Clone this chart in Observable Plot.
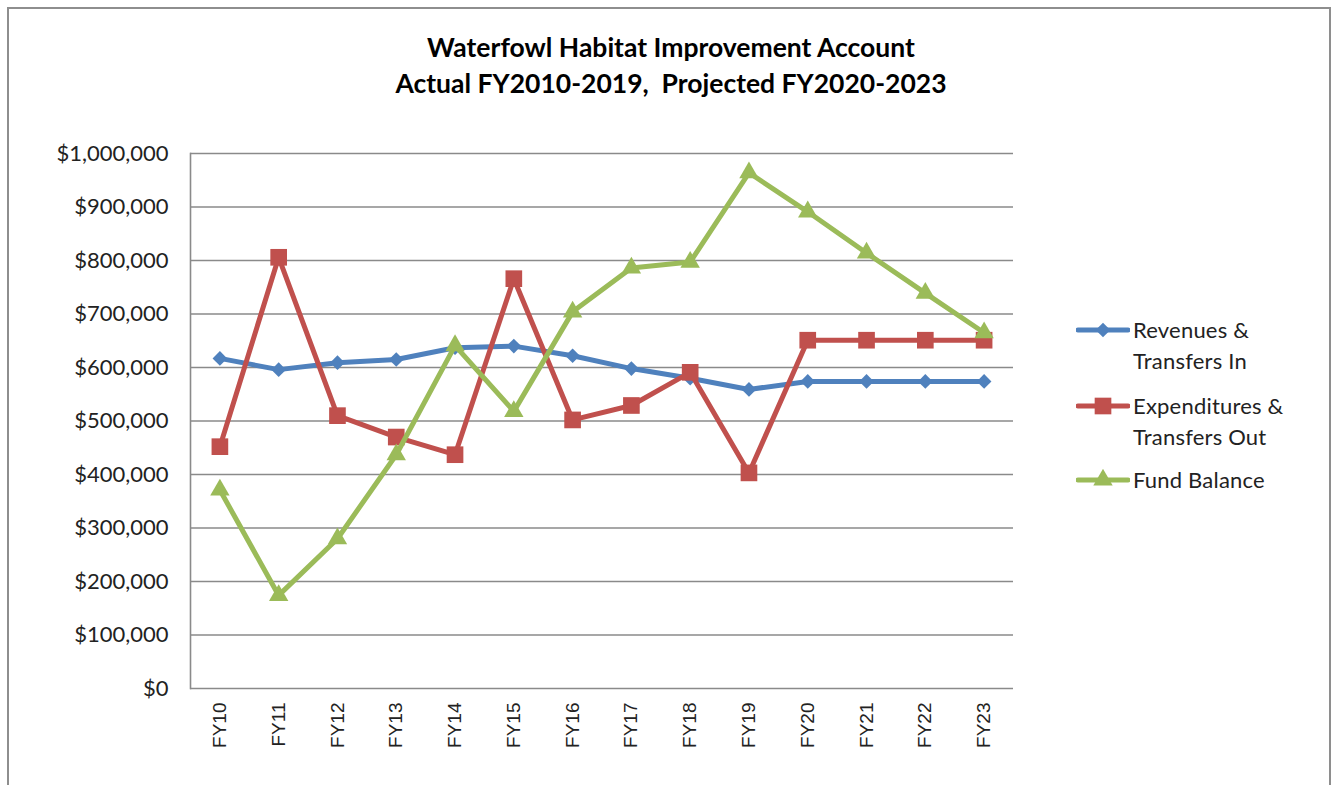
<!DOCTYPE html>
<html>
<head>
<meta charset="utf-8">
<script src="https://cdn.jsdelivr.net/npm/d3@7"></script>
<script src="https://cdn.jsdelivr.net/npm/@observablehq/plot@0.6"></script>
<style>
  html, body { margin: 0; padding: 0; background: #fff; overflow: hidden; }
  #wrap { position: relative; width: 1337px; height: 785px; overflow: hidden; background: #fff; }
  #frame { position: absolute; left: 7px; top: 7px; width: 1324px; height: 820px; border: 2px solid #8e8e8e; box-sizing: border-box; }
  #title { position: absolute; left: 0; top: 29px; width: 1342px; text-align: center; font-family: Lato, sans-serif; font-weight: bold; font-size: 26.5px; line-height: 36px; color: #000; }
  #chart { position: absolute; left: 0; top: 0; }
  #legend { position: absolute; left: 1076px; top: 314px; font-family: Lato, sans-serif; font-size: 22px; color: #222; }
  .item { display: flex; align-items: flex-start; }
  .item svg { flex: none; margin-top: 5px; }
  .item .lbl { line-height: 31px; margin-left: 3px; letter-spacing: 0.2px; }
</style>
</head>
<body>
<div id="wrap">
  <div id="frame"></div>
  <div id="chart"></div>
  <div id="title">Waterfowl Habitat Improvement Account<br>Actual FY2010-2019,&nbsp; Projected FY2020-2023</div>
  <div id="legend"></div>
</div>
<script>
const years = ["FY10","FY11","FY12","FY13","FY14","FY15","FY16","FY17","FY18","FY19","FY20","FY21","FY22","FY23"];
const revenues = [617000, 596000, 609000, 615000, 637000, 640000, 622000, 598000, 580000, 559000, 574000, 574000, 574000, 574000];
const expenditures = [452000, 806000, 510000, 470000, 437000, 766000, 502000, 529000, 591000, 403000, 651000, 651000, 651000, 651000];
const fundBalance = [371000, 174000, 280000, 437000, 641000, 518000, 704000, 786000, 797000, 964000, 891000, 814000, 739000, 665000];
const yTicks = [0, 100000, 200000, 300000, 400000, 500000, 600000, 700000, 800000, 900000, 1000000];
const seriesNames = [["Revenues &", "Transfers In"], ["Expenditures &", "Transfers Out"], ["Fund Balance"]];

const colors = ["#4F81BD", "#C0504D", "#9BBB59"];
const symbols = ["diamond2", "square", "triangle"];
const radii = [6.6, 9.4, 7.2];
const valuesList = [revenues, expenditures, fundBalance];

const marks = [
  Plot.ruleY(yTicks, {y: d => d, stroke: "#8a8a8a", strokeWidth: 1.4}),
  Plot.frame({anchor: "left", stroke: "#8a8a8a", strokeWidth: 1.6}),
  Plot.axisY({ticks: yTicks, tickSize: 0, tickPadding: 22, tickFormat: d3.format("$,"), fontSize: 22, fontFamily: "Lato, sans-serif", fill: "#222"}),
  Plot.axisX({tickSize: 0, tickRotate: -90, tickPadding: 14, fontSize: 19, fontFamily: "'Liberation Sans', Arial, sans-serif", fill: "#222"})
];
valuesList.forEach((vals, i) => {
  const rows = years.map((y, j) => ({year: y, value: vals[j]}));
  marks.push(Plot.lineY(rows, {x: "year", y: "value", stroke: colors[i], strokeWidth: 5}));
  marks.push(Plot.dot(rows, {x: "year", y: "value", symbol: symbols[i], fill: colors[i], r: radii[i]}));
});

const chart = Plot.plot({
  width: 1337,
  height: 785,
  marginLeft: 190,
  marginRight: 324,
  marginTop: 153,
  marginBottom: 97,
  style: {background: "transparent", overflow: "visible"},
  x: {type: "point", domain: years, padding: 0.5, round: false, label: null},
  y: {domain: [0, 1000000], label: null},
  marks
});
document.getElementById("chart").appendChild(chart);

// Legend
const legend = d3.select("#legend");
seriesNames.forEach((lines, i) => {
  const item = legend.append("div").attr("class", "item").style("margin-bottom", i === 0 ? "14px" : (i === 1 ? "12px" : "0"));
  const svg = item.append("svg").attr("width", 54).attr("height", 22);
  svg.append("line").attr("x1", 2).attr("x2", 52).attr("y1", 11).attr("y2", 11)
    .attr("stroke", colors[i]).attr("stroke-width", 5).attr("stroke-linecap", "round");
  const symMap = {diamond2: d3.symbolDiamond2, square: d3.symbolSquare, triangle: d3.symbolTriangle};
  svg.append("path").attr("transform", "translate(27,11)")
    .attr("d", d3.symbol(symMap[symbols[i]], Math.PI * radii[i] * radii[i])())
    .attr("fill", colors[i]);
  item.append("div").attr("class", "lbl").html(lines.join("<br>"));
});
</script>
</body>
</html>
